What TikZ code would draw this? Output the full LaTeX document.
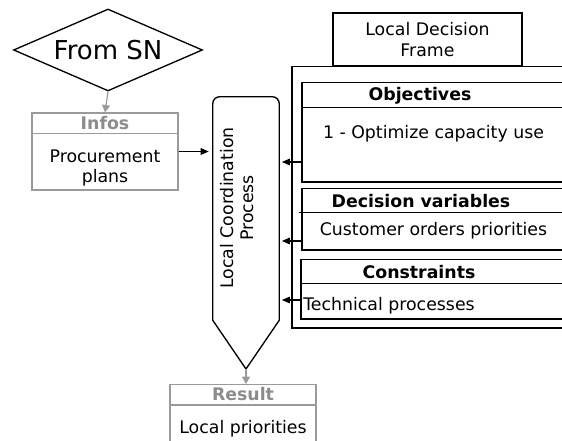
\documentclass[tikz,border=0pt]{standalone}
\usepackage{fontspec}
\setmainfont{DejaVu Sans}
\usetikzlibrary{shapes.geometric,arrows.meta}
\definecolor{hgray}{HTML}{8C8C8C}
\definecolor{bgray}{HTML}{9A9A9A}
\begin{document}
\begin{tikzpicture}[x=0.75pt,y=0.75pt,
  body/.style={font=\fontsize{13pt}{15.5pt}\selectfont, inner sep=0pt, align=center},
  head/.style={font=\fontsize{13pt}{15.5pt}\selectfont\bfseries, inner sep=0pt},
  blackbox/.style={draw=black, line width=1pt, inner sep=0pt},
  blackline/.style={draw=black, line width=1pt},
  graybox/.style={draw=bgray, line width=0.9pt, inner sep=0pt},
  openbox/.style={inner sep=0pt, anchor=south west},
  conn/.style={draw=black, line width=0.8pt, -{Triangle[length=6pt,width=5pt]}},
  gconn/.style={draw=bgray, line width=0.9pt, -{Triangle[length=5.5pt,width=6pt]}}]
\useasboundingbox (0,0) rectangle (562,441);
\clip (0,0) rectangle (562,441);

% From SN
\node[diamond, draw, line width=1pt, aspect=2.3, minimum width=141.75pt,
      minimum height=61.5pt, inner sep=0pt,
      font=\fontsize{19.5pt}{22pt}\selectfont] (from) at (108,391) {From SN};

% Infos
\node[graybox, minimum width=109.5pt, minimum height=57.75pt] (infobox) at (105,289.5) {};
\draw[graybox] (infobox.north west) ++(0,-21) -- ++(146,0);
\node[head, text=hgray] (infoshead) at (105,317.5) {Infos};
\node[body] (proc) at (105,273) {Procurement\\plans};
\draw[gconn] (from.south) -- (infobox.north);

% Local Coordination Process (pencil)
\node[minimum width=49.5pt, minimum height=167.25pt, inner sep=0pt] (lcp) at (246,232.5) {};
\coordinate (tip) at (246,72);
\draw[line width=1pt, line join=miter] (lcp.south west) -- ([yshift=-5.25pt]lcp.north west)
  arc[start angle=180, end angle=90, radius=5.25pt] -- ([xshift=-5.25pt]lcp.north east)
  arc[start angle=90, end angle=0, radius=5.25pt] -- (lcp.south east) -- (tip) -- cycle;
\node[body, rotate=90, font=\fontsize{13pt}{14.5pt}\selectfont] (lcplabel) at (237,233)
  {Local Coordination\\Process};
\draw[conn, shorten >=3pt] (infobox.east) -- (infobox.east -| lcp.west);

% Result
\node[graybox, minimum width=109.5pt, minimum height=75pt, anchor=north] (resbox) at (243,57) {};
\draw[graybox] (resbox.north west) ++(0,-21) -- ++(146,0);
\node[head, text=hgray] (reshead) at (243,46.5) {Result};
\node[body] (resbody) at (243,12.5) {Local priorities};
\draw[gconn] (tip) -- (tip |- resbox.north);

% Local Decision Frame
\node[blackbox, body, draw, line width=1pt, minimum width=141.75pt, minimum height=39.75pt]
  (ldf) at (427.5,401.5) {Local Decision\\Frame};

% Outer frame (runs off the right edge)
\node[openbox, minimum width=210pt, minimum height=195.75pt] (frame) at (292,113) {};
\draw[blackline] (frame.north east) -- (frame.north west) -- (frame.south west) -- (frame.south east);

% Objectives
\node[openbox, minimum width=202.5pt, minimum height=74.25pt] (objbox) at (302,259) {};
\draw[blackline] (objbox.north east) -- (objbox.north west) -- (objbox.south west) -- (objbox.south east);
\draw[blackline] (objbox.north west) ++(0,-25) -- ++(270,0);
\node[head] (objhead) at (420,345.5) {Objectives};
\node[body] (objtext) at (433.5,307.5) {1 - Optimize capacity use};
\coordinate (a1) at ([yshift=15pt]objbox.south west);
\draw[conn, shorten >=2pt] (a1) -- (a1 -| lcp.east);

% Decision variables
\node[openbox, minimum width=202.5pt, minimum height=45.75pt] (decbox) at (302,191) {};
\draw[blackline] (decbox.north east) -- (decbox.north west) -- (decbox.south west) -- (decbox.south east);
\draw[blackline] (decbox.north west) ++(-3,-24) -- ++(273,0);
\node[head] (dechead) at (421,240) {Decision variables};
\node[body] (dectext) at (433.5,210.5) {Customer orders priorities};
\coordinate (a2) at ([yshift=6.75pt]decbox.south west);
\draw[conn, shorten >=2pt] (a2) -- (a2 -| lcp.east);

% Constraints
\node[openbox, minimum width=203.25pt, minimum height=44.25pt] (conbox) at (301,122) {};
\draw[blackline] (conbox.north east) -- (conbox.north west) -- (conbox.south west) -- (conbox.south east);
\draw[blackline] (conbox.north west) ++(0,-24) -- ++(271,0);
\node[head] (conhead) at (419,169) {Constraints};
\node[body, anchor=west] (context) at (303,135.5) {Technical processes};
\coordinate (a3) at ([yshift=14.25pt]conbox.south west);
\draw[conn, shorten >=2pt] (a3) -- (a3 -| lcp.east);
\end{tikzpicture}
\end{document}
